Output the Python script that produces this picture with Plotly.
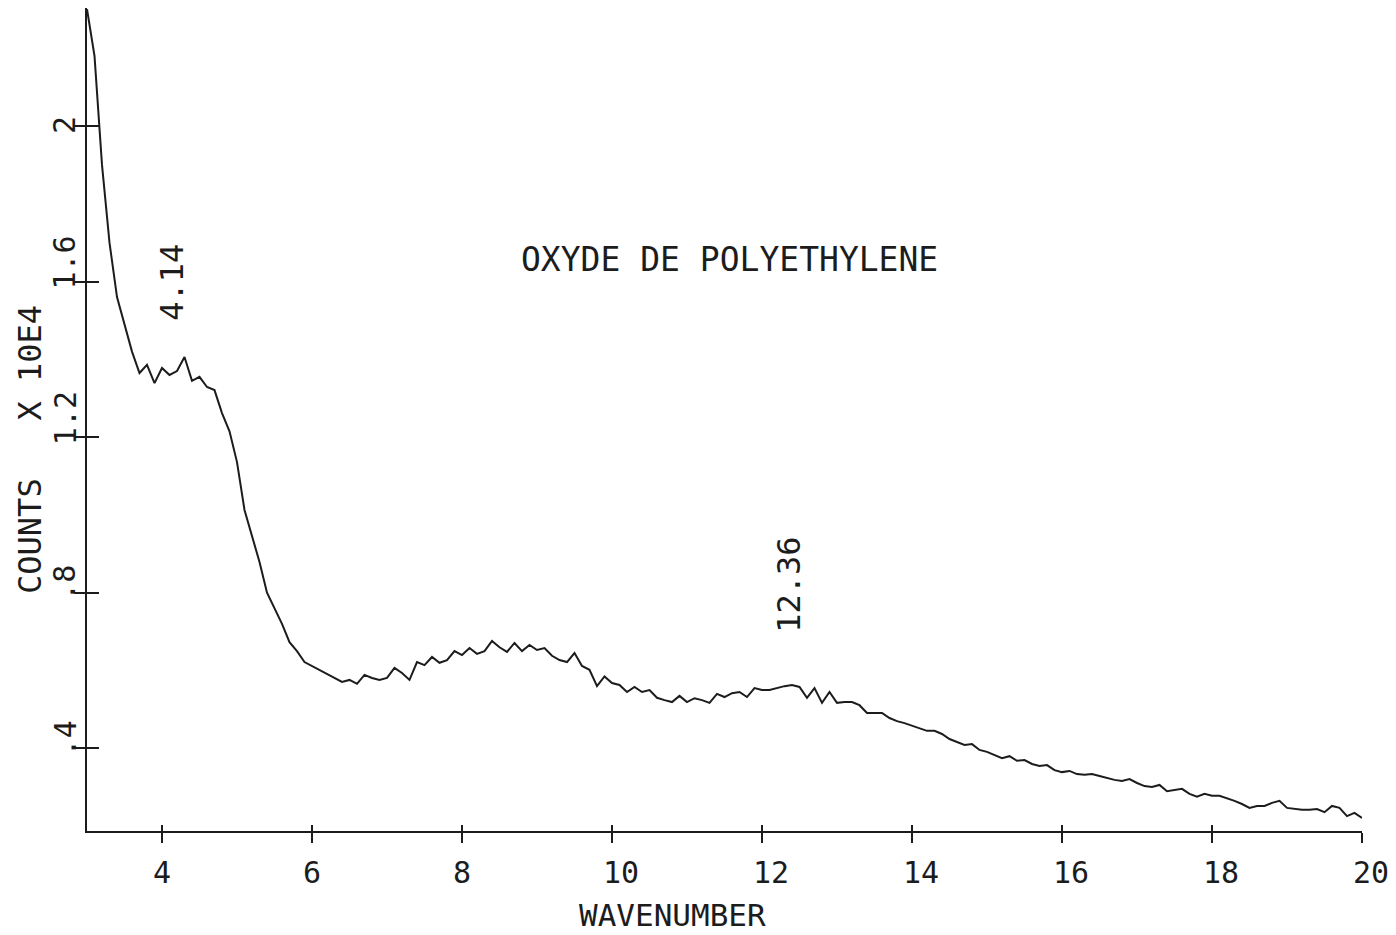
import numpy as np
import plotly.graph_objects as go

# Scattering spectrum of poly(ethylene oxide), counts in units of 1e4
wavenumber = np.round(np.arange(3.0, 20.0001, 0.1), 1)
counts = [
    2.300, 2.180, 1.900, 1.700, 1.560, 1.490, 1.420, 1.365, 1.386, 1.339,
    1.378, 1.360, 1.370, 1.406, 1.345, 1.355, 1.329, 1.321, 1.262, 1.215,
    1.136, 1.013, 0.943, 0.879, 0.800, 0.761, 0.720, 0.673, 0.650, 0.622,
    0.612, 0.600, 0.591, 0.581, 0.571, 0.576, 0.566, 0.589, 0.581, 0.576,
    0.581, 0.607, 0.594, 0.576, 0.622, 0.614, 0.635, 0.620, 0.627, 0.650,
    0.640, 0.658, 0.643, 0.650, 0.676, 0.660, 0.648, 0.671, 0.650, 0.666,
    0.653, 0.658, 0.638, 0.627, 0.622, 0.645, 0.612, 0.602, 0.560, 0.585,
    0.568, 0.563, 0.545, 0.558, 0.545, 0.550, 0.530, 0.524, 0.519, 0.535,
    0.519, 0.529, 0.524, 0.517, 0.540, 0.532, 0.542, 0.545, 0.532, 0.555,
    0.550, 0.550, 0.555, 0.560, 0.563, 0.558, 0.530, 0.555, 0.517, 0.545,
    0.517, 0.519, 0.519, 0.511, 0.491, 0.491, 0.491, 0.478, 0.470, 0.465,
    0.458, 0.450, 0.445, 0.445, 0.437, 0.424, 0.416, 0.409, 0.411, 0.396,
    0.391, 0.383, 0.375, 0.380, 0.368, 0.370, 0.360, 0.355, 0.357, 0.344,
    0.339, 0.342, 0.334, 0.332, 0.334, 0.329, 0.324, 0.319, 0.316, 0.321,
    0.311, 0.303, 0.301, 0.306, 0.290, 0.293, 0.296, 0.283, 0.276, 0.283,
    0.278, 0.278, 0.272, 0.265, 0.257, 0.247, 0.252, 0.252, 0.260, 0.265,
    0.247, 0.244, 0.242, 0.242, 0.244, 0.236, 0.252, 0.247, 0.226, 0.234,
    0.221,
]

peak_positions = [4.14, 12.36]
peak_labels = ["4.14", "12.36"]

x_tick_vals = [4, 6, 8, 10, 12, 14, 16, 18, 20]
x_tick_text = ["4", "6", "8", "10", "12", "14", "16", "18", "20"]
y_tick_vals = [0.4, 0.8, 1.2, 1.6, 2.0]
y_tick_text = [".4", ".8", "1.2", "1.6", "2"]

x_range = [3.0, 20.0]
y_range = [0.1876, 2.3033]

FONT = "DejaVu Sans Mono"
INK = "#1c1c1c"
FS = 30

fig = go.Figure()
fig.add_trace(go.Scatter(
    x=wavenumber, y=counts, mode="lines",
    line=dict(color=INK, width=2), showlegend=False, hoverinfo="skip",
))
# empty trace so the overlay axes (inner half of the tick marks) get drawn
fig.add_trace(go.Scatter(x=[None], y=[None], xaxis="x2", yaxis="y2",
                         showlegend=False, hoverinfo="skip"))

common = dict(showgrid=False, zeroline=False, tickwidth=2, tickcolor=INK)
fig.update_layout(
    width=1396, height=935,
    margin=dict(l=87, r=34, t=8, b=104),
    paper_bgcolor="white", plot_bgcolor="white",
    font=dict(family=FONT, size=FS, color=INK),
    xaxis=dict(range=x_range, tickvals=x_tick_vals, ticks="outside", ticklen=10,
               showticklabels=False, showline=True, linecolor=INK, linewidth=2,
               **common),
    yaxis=dict(range=y_range, tickvals=y_tick_vals, ticks="outside", ticklen=11,
               showticklabels=False, showline=True, linecolor=INK, linewidth=2,
               **common),
    xaxis2=dict(range=x_range, tickvals=x_tick_vals, ticks="inside", ticklen=6,
                showticklabels=False, showline=False, overlaying="x", anchor="y2",
                **common),
    yaxis2=dict(range=y_range, tickvals=y_tick_vals, ticks="inside", ticklen=12,
                showticklabels=False, showline=False, overlaying="y", anchor="x2",
                side="left", **common),
)

annotations = []
# x tick labels, starting just left of each tick
for v, t in zip(x_tick_vals, x_tick_text):
    annotations.append(dict(x=v, y=0, xref="x", yref="paper", text=t,
                            xanchor="left", yanchor="top", xshift=-11, yshift=-22,
                            showarrow=False))
# y tick labels, rotated, starting just below each tick
for v, t in zip(y_tick_vals, y_tick_text):
    annotations.append(dict(x=0, y=v, xref="paper", yref="y", text=t,
                            textangle=-90, xanchor="center", yanchor="bottom",
                            xshift=-22, yshift=-10, showarrow=False))
# peak position labels above the curve
for p, t in zip(peak_positions, peak_labels):
    level = float(np.interp(p, wavenumber, counts)) + 0.13
    annotations.append(dict(x=p, y=level, xref="x", yref="y", text=t,
                            textangle=-90, xanchor="center", yanchor="bottom",
                            font=dict(size=32), showarrow=False))
annotations += [
    dict(x=0.459, y=0, xref="paper", yref="paper", text="WAVENUMBER",
         xanchor="center", yanchor="middle", yshift=-84, font=dict(size=31),
         showarrow=False),
    dict(x=0, y=0.463, xref="paper", yref="paper", text="COUNTS   X 10E4",
         textangle=-90, xanchor="center", yanchor="middle", xshift=-57,
         font=dict(size=32), showarrow=False),
    dict(x=0.504, y=0.694, xref="paper", yref="paper",
         text="OXYDE DE POLYETHYLENE", xanchor="center", yanchor="middle",
         font=dict(size=33), showarrow=False),
]
fig.update_layout(annotations=annotations)

fig.write_html("out.html")
